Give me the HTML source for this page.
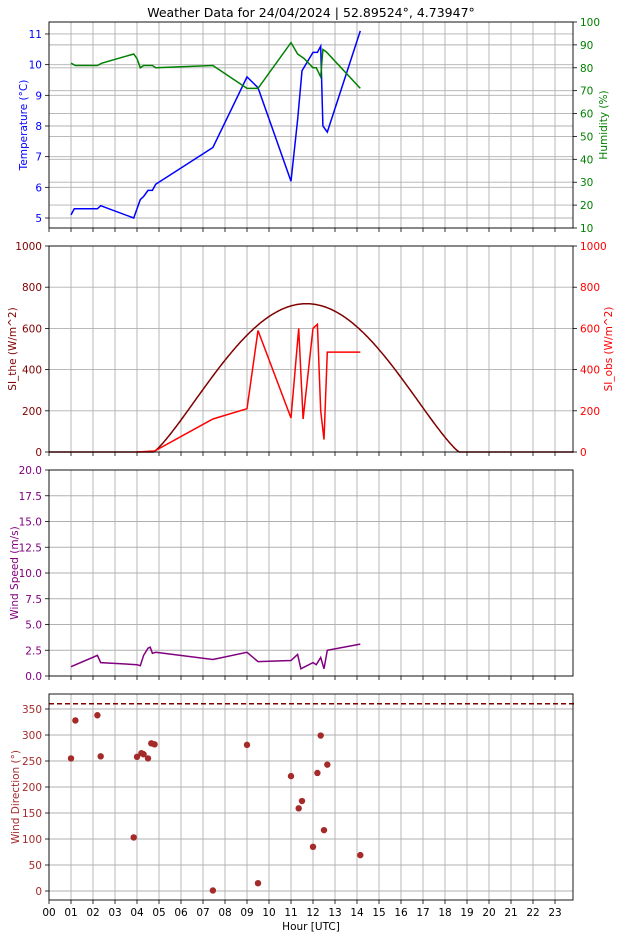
<!DOCTYPE html>
<html><head><meta charset="utf-8"><style>
html,body{margin:0;padding:0;background:#fff;width:629px;height:933px;overflow:hidden}
svg text{font-family:"DejaVu Sans","Liberation Sans",sans-serif;font-size:10.5px}
</style></head><body>
<svg id="s" width="629" height="933" xmlns="http://www.w3.org/2000/svg"></svg>
<script>
const S=document.getElementById('s');let h='';
const X0=49,XR=573,PH=22;const X=t=>X0+PH*t;
const panels=[[22,228],[246,452],[470,676],[694,900]];
function grid(top,bot){for(let i=0;i<24;i++){h+=`<line x1="${X(i)}" x2="${X(i)}" y1="${top}" y2="${bot}" stroke="#b0b0b0" stroke-width="0.9"/>`;h+=`<line x1="${X(i)}" x2="${X(i)}" y1="${bot}" y2="${bot+4}" stroke="#000" stroke-width="0.8"/>`;}}
function hline(y,x1,x2){h+=`<line x1="${x1}" x2="${x2}" y1="${y}" y2="${y}" stroke="#b0b0b0" stroke-width="0.9"/>`;}
function ytick(y,lab,col,side){if(side=='l'){h+=`<line x1="${X0-4}" x2="${X0}" y1="${y}" y2="${y}" stroke="#000" stroke-width="0.8"/><text x="${X0-7}" y="${y+4}" text-anchor="end" fill="${col}">${lab}</text>`;}else{h+=`<line x1="${XR}" x2="${XR+4}" y1="${y}" y2="${y}" stroke="#000" stroke-width="0.8"/><text x="${XR+7}" y="${y+4}" fill="${col}">${lab}</text>`;}}
function frame(top,bot){h+=`<rect x="${X0}" y="${top}" width="${XR-X0}" height="${bot-top}" fill="none" stroke="#000" stroke-width="0.9"/>`;}
function line(pts,fx,fy,col,w=1.5,dash=''){h+=`<polyline fill="none" stroke="${col}" stroke-width="${w}" ${dash?`stroke-dasharray="${dash}"`:''} points="${pts.map(p=>fx(p[0]).toFixed(1)+','+fy(p[1]).toFixed(1)).join(' ')}"/>`;}
function ylab(x,y,txt,col){h+=`<text transform="translate(${x},${y}) rotate(-90)" text-anchor="middle" fill="${col}">${txt}</text>`;}
// title
h+=`<text x="311" y="17" text-anchor="middle" style="font-size:12.5px">Weather Data for 24/04/2024 | 52.89524°, 4.73947°</text>`;
// Panel 1
let [t1,b1]=panels[0];const TY=v=>218-(v-5)*30.67;const HY=v=>228-(v-10)*2.289;
grid(t1,b1);for(let v=5;v<=11;v++)hline(TY(v),X0,XR);for(let v=10;v<=100;v+=10)hline(HY(v),X0,XR);
for(let v=5;v<=11;v++)ytick(TY(v),v,'#0000ff','l');for(let v=10;v<=100;v+=10)ytick(HY(v),v,'#008000','r');
line([[1,5.1],[1.15,5.3],[2.2,5.3],[2.35,5.4],[3.85,5.0],[4.15,5.6],[4.3,5.7],[4.5,5.9],[4.7,5.9],[4.85,6.1],[7.45,7.3],[9.0,9.6],[9.5,9.25],[11.0,6.2],[11.3,8.2],[11.5,9.8],[12.0,10.4],[12.2,10.4],[12.35,10.6],[12.45,8.0],[12.65,7.8],[14.15,11.1]],X,TY,'#0000ff');
line([[1,82],[1.2,81],[2.2,81],[2.4,82],[3.85,86],[4.0,84],[4.15,80],[4.3,81],[4.7,81],[4.85,80],[7.45,81],[9.0,71],[9.5,71],[11.0,91],[11.3,86],[11.6,84],[12.0,80],[12.15,80],[12.35,76],[12.45,88],[12.6,87],[14.15,71]],X,HY,'#008000');
frame(t1,b1);ylab(27,125,'Temperature (°C)','#0000ff');ylab(607,125,'Humidity (%)','#008000');
// Panel 2
let [t2,b2]=panels[1];const SY=v=>452-v*0.206;
grid(t2,b2);for(let v=0;v<=1000;v+=200){hline(SY(v),X0,XR);ytick(SY(v),v,'#800000','l');ytick(SY(v),v,'#ff0000','r');}
let th=[];for(let t=0;t<=23.9;t+=0.05){let v=0;if(t>4.75&&t<18.65)v=720*Math.pow(Math.sin(Math.PI*(t-4.75)/13.9),1.2);th.push([t,v]);}
line(th,X,SY,'#800000');
line([[4,0],[4.8,5],[7.45,160],[9.0,210],[9.5,590],[11.0,165],[11.35,600],[11.55,160],[12.0,600],[12.2,620],[12.35,200],[12.5,60],[12.65,485],[14.15,485]],X,SY,'#ff0000');
frame(t2,b2);ylab(16,349,'SI_the (W/m^2)','#800000');ylab(612,349,'SI_obs (W/m^2)','#ff0000');
// Panel 3
let [t3,b3]=panels[2];const WY=v=>676-v*10.3;
grid(t3,b3);for(let v=0;v<=20;v+=2.5){hline(WY(v),X0,XR);ytick(WY(v),v.toFixed(1),'#800080','l');}
line([[1,0.9],[2.2,2.0],[2.35,1.3],[4.0,1.1],[4.15,1.0],[4.3,2.0],[4.5,2.7],[4.6,2.8],[4.7,2.2],[4.85,2.3],[7.45,1.6],[9.0,2.3],[9.5,1.4],[11.0,1.5],[11.3,2.1],[11.45,0.7],[12.0,1.3],[12.15,1.1],[12.35,1.8],[12.5,0.7],[12.65,2.5],[14.15,3.1]],X,WY,'#800080');
frame(t3,b3);ylab(18,573,'Wind Speed (m/s)','#800080');
// Panel 4
let [t4,b4]=panels[3];const DY=v=>891-v*0.52;
grid(t4,b4);for(let v=0;v<=350;v+=50){hline(DY(v),X0,XR);ytick(DY(v),v,'#a52a2a','l');}
line([[0,360],[23.9,360]],X,DY,'#800000',1.5,'5,3');
[[1.0,255],[1.2,328],[2.2,338],[2.35,259],[3.85,103],[4.0,258],[4.2,265],[4.3,263],[4.5,255],[4.65,284],[4.8,282],[7.45,1],[9.0,281],[9.5,15],[11.0,221],[11.35,159],[11.5,173],[12.0,85],[12.2,227],[12.35,299],[12.5,117],[12.65,243],[14.15,69]].forEach(p=>{h+=`<circle cx="${X(p[0])}" cy="${DY(p[1])}" r="3.2" fill="#a52a2a"/>`;});
frame(t4,b4);ylab(19,797,'Wind Direction (°)','#a52a2a');
for(let i=0;i<24;i++)h+=`<text x="${X(i)}" y="${b4+16}" text-anchor="middle">${String(i).padStart(2,'0')}</text>`;
h+=`<text x="311" y="${b4+30}" text-anchor="middle">Hour [UTC]</text>`;
S.innerHTML=h;
</script>
</body></html>
